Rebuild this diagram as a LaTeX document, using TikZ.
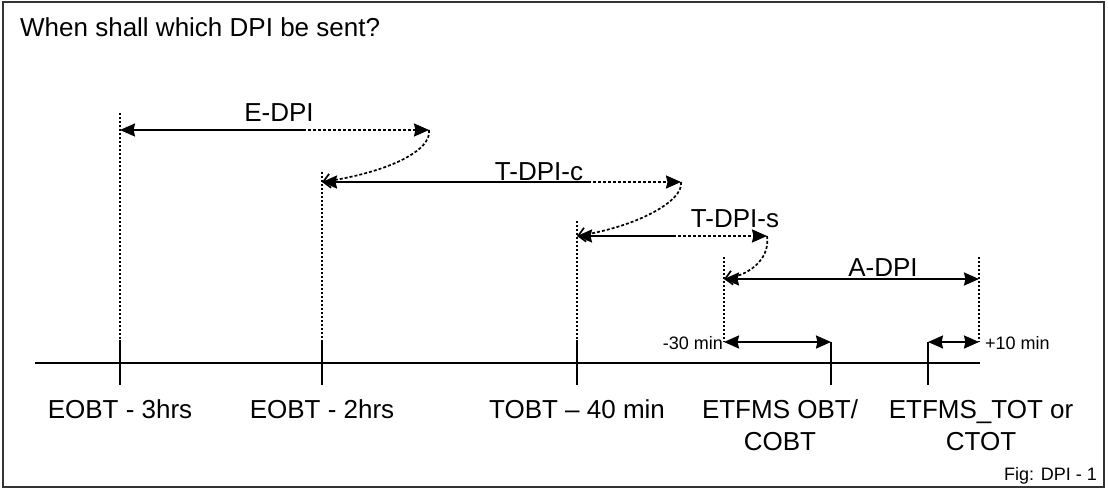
\documentclass[tikz,border=0pt]{standalone}
\usepackage{fontspec}
\setmainfont{Liberation Sans}
\usetikzlibrary{arrows.meta}
\begin{document}
\begin{tikzpicture}[x=1pt,y=-1pt,
  head/.tip={Stealth[length=15pt,width=13pt,inset=1.5pt]},
  big/.style={font=\fontsize{26}{32}\selectfont, inner sep=0pt, anchor=base},
  small/.style={font=\fontsize{18}{20}\selectfont, inner sep=0pt},
  solidpart/.style={line width=2pt},
  dotpart/.style={line width=2pt, dash pattern=on 3pt off 2pt},
  guide/.style={line width=2pt, dash pattern=on 2pt off 2pt},
  handover/.style={line width=1.7pt, dash pattern=on 3pt off 2pt, -{Straight Barb[length=7pt,width=14pt]}},
  tick/.style={line width=1.4pt},
  axis/.style={line width=1.3pt},
  caption/.style={font=\fontsize{26}{32}\selectfont, inner sep=0pt, align=center, anchor=base},
]
\useasboundingbox (0,0) rectangle (1108,492);
\draw[line width=2pt, black!80] (3,2) rectangle (1104,487);

% heading
\node[big, anchor=base west] (title) at (20,37) {When shall which DPI be sent?};

% time axis and its marks
\coordinate (axL) at (35,363);
\coordinate (axR) at (980,363);
\draw[axis] (axL) -- (axR);
\foreach \n/\x in {t1/120, t2/322, t3/577}{
  \coordinate (\n top) at (\x,340);
  \coordinate (\n bot) at (\x,385);
  \draw[tick] (\n top) -- (\n bot);
}
\coordinate (obtTop) at (831,342);
\coordinate (obtBot) at (831,385);
\coordinate (totTop) at (928,342);
\coordinate (totBot) at (928,385);
\draw[tick] (obtTop) -- (obtBot);
\draw[tick] (totTop) -- (totBot);

% E-DPI window
\coordinate (eL) at (120,130);
\coordinate (eM) at (303,130);
\coordinate (eR) at (429,130);
\coordinate (eG) at (120,113);
\draw[guide] (eG) -- (t1top);
\draw[solidpart, {head}-] (eL) -- (eM);
\draw[dotpart, -{head}] (eM) -- (eR);
\node[big] (elab) at (279,122) {E-DPI};

% T-DPI-c window
\coordinate (cL) at (322,182);
\coordinate (cM) at (588,182);
\coordinate (cR) at (681,182);
\coordinate (cG) at (322,172);
\draw[guide] (cG) -- (t2top);
\draw[solidpart, {head}-] (cL) -- (cM);
\draw[dotpart, -{head}] (cM) -- (cR);
\node[big] (clab) at (539,180) {T-DPI-c};

% T-DPI-s window
\coordinate (sL) at (577,236);
\coordinate (sM) at (673,236);
\coordinate (sR) at (767,236);
\coordinate (sG) at (577,221);
\draw[guide] (sG) -- (t3top);
\draw[solidpart, {head}-] (sL) -- (sM);
\draw[dotpart, -{head}] (sM) -- (sR);
\node[big] (slab) at (735,227) {T-DPI-s};

% A-DPI window
\coordinate (aL) at (724,279);
\coordinate (aR) at (979,279);
\coordinate (aGL) at (724,257);
\coordinate (aGR) at (979,257);
\coordinate (aBL) at (724,342);
\coordinate (aBR) at (979,342);
\draw[guide] (aGL) -- (aBL);
\draw[guide] (aGR) -- (aBR);
\draw[solidpart, {head}-{head}] (aL) -- (aR);
\node[big] (alab) at (883,276) {A-DPI};

% hand-over from one message to the next
\draw[handover] (eR) .. controls (432,150) and (390,172) .. (cL);
\draw[handover] (cR) .. controls (684,200) and (640,226) .. (sL);
\draw[handover] (sR) .. controls (770,255) and (755,274) .. (aL);

% tolerances around OBT and TOT
\draw[solidpart, {head}-{head}] (aBL) -- (obtTop);
\draw[solidpart, {head}-{head}] (totTop) -- (aBR);
\node[small, anchor=east] (m30) at (723,343) {-30 min};
\node[small, anchor=west] (p10) at (985,343) {+10 min};

% time labels (two-line labels are placed by their last baseline)
\node[caption] (l1) at (120,418) {EOBT - 3hrs};
\node[caption] (l2) at (322,418) {EOBT - 2hrs};
\node[caption] (l3) at (577,418) {TOBT – 40 min};
\node[caption] (l4) at (780,450) {ETFMS OBT/\\COBT};
\node[caption] (l5) at (981,450) {ETFMS\_TOT or\\CTOT};

\node[font=\fontsize{18}{20}\selectfont, inner sep=0pt, anchor=base east] (fig) at (1097,480) {Fig: DPI - 1};
\end{tikzpicture}
\end{document}
